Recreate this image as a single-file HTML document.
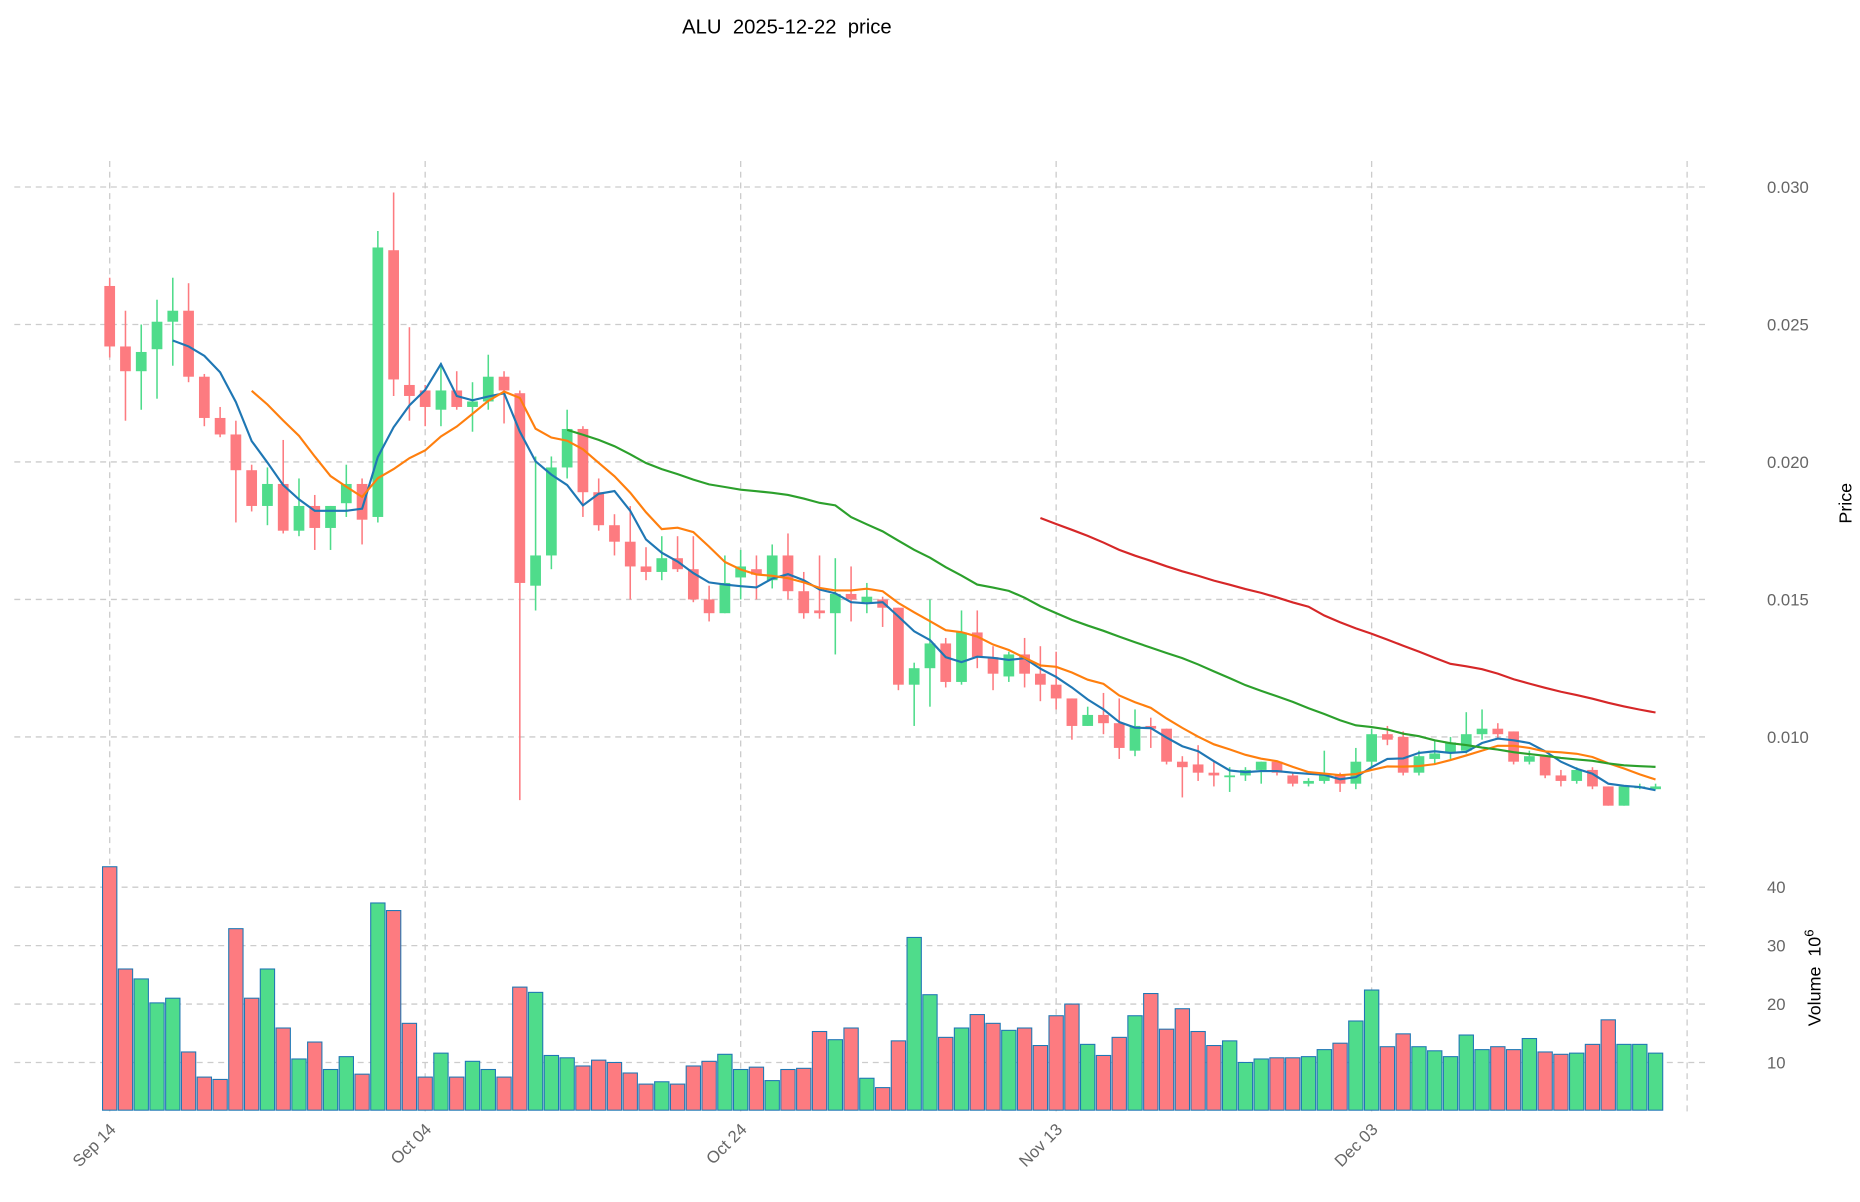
<!DOCTYPE html>
<html><head><meta charset="utf-8">
<style>
html,body{margin:0;padding:0;background:#fff;}
svg{display:block;font-family:"Liberation Sans","DejaVu Sans",sans-serif;}
</style></head>
<body>
<svg id="chart" width="1860" height="1202" viewBox="0 0 1560 1008" preserveAspectRatio="none" xmlns="http://www.w3.org/2000/svg">
<text x="660" y="28" text-anchor="middle" font-size="17" fill="#000" style="white-space:pre" xml:space="preserve">ALU  2025-12-22  price</text>
<g id="grid"></g>
<g id="vol"></g>
<g id="candles"></g>
<g id="mas"></g>
<g id="axes"></g>
<text x="1553" y="422" transform="rotate(-90 1553 422)" text-anchor="middle" font-size="15" fill="#000">Price</text>
<text x="1527" y="820" transform="rotate(-90 1527 820)" text-anchor="middle" font-size="15" fill="#000" style="white-space:pre" xml:space="preserve">Volume  10<tspan dy="-6" font-size="11">6</tspan></text>
</svg>
<script>
const opens=[0.0264,0.0242,0.0233,0.0241,0.0251,0.0255,0.0231,0.0216,0.0210,0.0197,0.0184,0.0192,0.0175,0.0184,0.0176,0.0185,0.0192,0.0180,0.0277,0.0228,0.0226,0.0219,0.0226,0.0220,0.0222,0.0231,0.0225,0.0155,0.0166,0.0198,0.0212,0.0189,0.0177,0.0171,0.0162,0.0160,0.0165,0.0161,0.0150,0.0145,0.0158,0.0161,0.0157,0.0166,0.0153,0.0146,0.0145,0.0152,0.0149,0.0150,0.0147,0.0119,0.0125,0.0134,0.0120,0.0138,0.0129,0.0122,0.0130,0.0123,0.0119,0.0114,0.0104,0.0108,0.0105,0.0095,0.0104,0.0103,0.0091,0.0090,0.0087,0.0086,0.0086,0.0088,0.0091,0.0086,0.0083,0.0084,0.0086,0.0083,0.0091,0.0101,0.0100,0.0087,0.0092,0.0094,0.0095,0.0101,0.0103,0.0102,0.0091,0.0093,0.0086,0.0084,0.0088,0.0082,0.0075,0.0082,0.0081];
const closes=[0.0242,0.0233,0.0240,0.0251,0.0255,0.0231,0.0216,0.0210,0.0197,0.0184,0.0192,0.0175,0.0184,0.0176,0.0184,0.0192,0.0179,0.0278,0.0230,0.0224,0.0220,0.0226,0.0220,0.0222,0.0231,0.0226,0.0156,0.0166,0.0198,0.0212,0.0189,0.0177,0.0171,0.0162,0.0160,0.0165,0.0161,0.0150,0.0145,0.0156,0.0162,0.0159,0.0166,0.0153,0.0145,0.0145,0.0152,0.0150,0.0151,0.0147,0.0119,0.0125,0.0134,0.0120,0.0138,0.0129,0.0123,0.0130,0.0123,0.0119,0.0114,0.0104,0.0108,0.0105,0.0096,0.0104,0.0103,0.0091,0.0089,0.0087,0.0086,0.0086,0.0088,0.0091,0.0087,0.0083,0.0084,0.0086,0.0083,0.0091,0.0101,0.0099,0.0087,0.0093,0.0094,0.0098,0.0101,0.0103,0.0101,0.0091,0.0093,0.0086,0.0084,0.0088,0.0082,0.0075,0.0082,0.0082,0.0082];
const highs=[0.0267,0.0255,0.0250,0.0259,0.0267,0.0265,0.0232,0.0220,0.0215,0.0199,0.0198,0.0208,0.0194,0.0188,0.0184,0.0199,0.0194,0.0284,0.0298,0.0249,0.0228,0.0236,0.0233,0.0229,0.0239,0.0233,0.0226,0.0202,0.0202,0.0219,0.0213,0.0194,0.0181,0.0184,0.0169,0.0173,0.0173,0.0173,0.0155,0.0166,0.0168,0.0166,0.0170,0.0174,0.0160,0.0166,0.0165,0.0162,0.0156,0.0151,0.0147,0.0127,0.0150,0.0136,0.0146,0.0146,0.0133,0.0131,0.0136,0.0133,0.0131,0.0114,0.0111,0.0116,0.0114,0.0110,0.0107,0.0103,0.0093,0.0097,0.0091,0.0089,0.0089,0.0091,0.0091,0.0087,0.0085,0.0095,0.0087,0.0096,0.0103,0.0104,0.0102,0.0095,0.0099,0.0100,0.0109,0.0110,0.0105,0.0102,0.0095,0.0093,0.0088,0.0089,0.0089,0.0082,0.0082,0.0083,0.0083];
const lows=[0.0238,0.0215,0.0219,0.0223,0.0235,0.0229,0.0213,0.0209,0.0178,0.0182,0.0177,0.0174,0.0173,0.0168,0.0168,0.0180,0.0170,0.0178,0.0224,0.0215,0.0213,0.0213,0.0219,0.0211,0.0219,0.0214,0.0077,0.0146,0.0161,0.0194,0.0180,0.0175,0.0166,0.0150,0.0157,0.0157,0.0160,0.0149,0.0142,0.0145,0.0150,0.0150,0.0154,0.0150,0.0143,0.0143,0.0130,0.0142,0.0145,0.0140,0.0117,0.0104,0.0111,0.0118,0.0119,0.0125,0.0117,0.0120,0.0118,0.0113,0.0110,0.0099,0.0104,0.0101,0.0092,0.0093,0.0096,0.0090,0.0078,0.0084,0.0082,0.0080,0.0084,0.0083,0.0086,0.0082,0.0082,0.0083,0.0080,0.0081,0.0089,0.0097,0.0086,0.0086,0.0090,0.0092,0.0094,0.0099,0.0099,0.0090,0.0090,0.0085,0.0082,0.0083,0.0081,0.0075,0.0075,0.0081,0.0081];
const volumes=[43.5,26,24.3,20.2,21,11.8,7.5,7.1,32.9,21,26,15.9,10.6,13.5,8.8,11,8,37.3,36,16.7,7.5,11.6,7.5,10.2,8.8,7.5,22.9,22,11.2,10.8,9.4,10.4,10,8.2,6.3,6.7,6.3,9.4,10.2,11.4,8.8,9.2,6.9,8.8,9,15.3,13.9,15.9,7.3,5.7,13.7,31.4,21.6,14.3,15.9,18.2,16.7,15.5,15.9,12.9,18,20,13.1,11.2,14.3,18,21.8,15.7,19.2,15.3,12.9,13.7,10,10.6,10.8,10.8,11,12.2,13.3,17.1,22.4,12.7,14.9,12.7,12,11,14.7,12.2,12.7,12.2,14.1,11.8,11.4,11.6,13.1,17.3,13.1,13.1,11.6];
const xTickLabels=["Sep 14","Oct 04","Oct 24","Nov 13","Dec 03"];
const xTickIdx=[0,20,40,60,80];
const priceTicks=[0.010,0.015,0.020,0.025,0.030];
const priceTickLabels=["0.010","0.015","0.020","0.025","0.030"];
const volTicks=[10,20,30,40];
const maPeriods=[5,10,30,60];
const maColors=["#1f77b4","#ff7f0e","#2ca02c","#d62728"];

const NS="http://www.w3.org/2000/svg";
const xs=i=>92+i*13.23;
const yp=p=>618-(p-0.010)*23060;
const yv=v=>940-v*4.9;
const VB=931;
function mk(tag,attrs,parent){const e=document.createElementNS(NS,tag);for(const k in attrs)e.setAttribute(k,attrs[k]);parent.appendChild(e);return e;}
const grid=document.getElementById('grid'),axes=document.getElementById('axes');
const GREEN="#4fdc8b",RED="#fd7b80";
xTickIdx.concat([100]).forEach((ix)=>{
  const l=mk('line',{x1:xs(ix),x2:xs(ix),y1:135,y2:935,stroke:'#cccccc','stroke-dasharray':'5,4','stroke-width':1.1},grid);
  
  
});
priceTicks.forEach((p,k)=>{
  const l=mk('line',{x1:12,x2:1432,y1:yp(p),y2:yp(p),stroke:'#cccccc','stroke-dasharray':'5,4','stroke-width':1.1},grid);
  
  
  const t=mk('text',{x:1482,y:yp(p)+5,'font-size':14,fill:'#666'},axes);
  t.textContent=priceTickLabels[k];
  
  
});
volTicks.forEach(v=>{
  const l=mk('line',{x1:12,x2:1432,y1:yv(v),y2:yv(v),stroke:'#cccccc','stroke-dasharray':'5,4','stroke-width':1.1},grid);
  
  
  const t=mk('text',{x:1482,y:yv(v)+5,'font-size':14,fill:'#666'},axes);
  t.textContent=String(v);
  
  
});
xTickIdx.forEach((ix,k)=>{
  const x=xs(ix);
  const t=mk('text',{x:x+6,y:948,'font-size':14,fill:'#666','text-anchor':'end',transform:`rotate(-45 ${x+6} 948)`},axes);
  t.textContent=xTickLabels[k];
  
  
});
const vol=document.getElementById('vol');
volumes.forEach((v,i)=>{
  const up=closes[i]>=opens[i];
  const r=mk('rect',{x:xs(i)-6,y:yv(v),width:12,height:VB-yv(v),fill:up?GREEN:RED,stroke:'#1f77b4','stroke-width':0.9},vol);
  
  
});
const cg=document.getElementById('candles');
opens.forEach((o,i)=>{
  const c=closes[i],up=c>=o,col=up?GREEN:RED,x=xs(i);
  const w=mk('line',{x1:x,x2:x,y1:yp(highs[i]),y2:yp(lows[i]),stroke:col,'stroke-width':1.3},cg);
  
  
  const top=yp(Math.max(o,c)),h=Math.max(1.5,Math.abs(yp(o)-yp(c)));
  const b=mk('rect',{x:x-4.5,y:top,width:9,height:h,fill:col},cg);
  
  
});
const mg=document.getElementById('mas');
maPeriods.forEach((n,k)=>{
  const pts=[];
  for(let i=n-1;i<closes.length;i++){let s=0;for(let j=i-n+1;j<=i;j++)s+=closes[j];pts.push(xs(i).toFixed(1)+','+yp(s/n).toFixed(1));}
  const pl=mk('polyline',{points:pts.join(' '),fill:'none',stroke:maColors[k],'stroke-width':1.8},mg);
  
  
});
</script>
</body></html>
